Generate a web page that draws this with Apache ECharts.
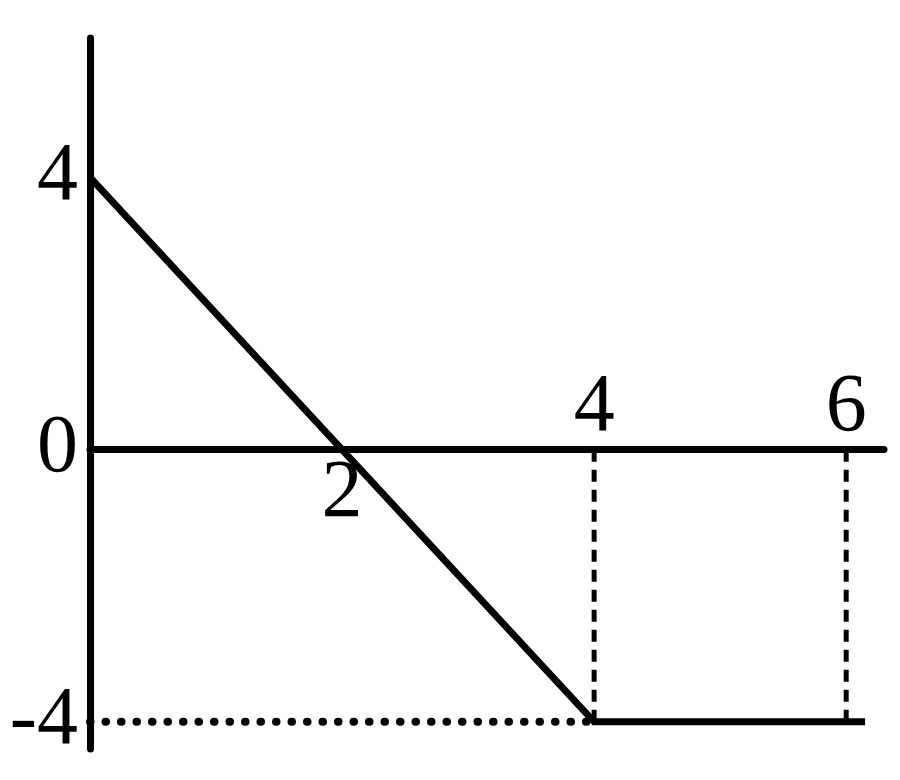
<!DOCTYPE html>
<html>
<head>
<meta charset="utf-8">
<script src="https://cdn.jsdelivr.net/npm/echarts@6/dist/echarts.min.js"></script>
<style>
html,body{margin:0;padding:0;background:#fff;}
#chart{width:900px;height:780px;}
</style>
</head>
<body>
<div id="chart"></div>
<script>
// Data
var graphPoints = [[0, 4], [2, 0], [4, -4], [6.15, -4]];
var guideHorizontal = [[0, -4], [4, -4]];
var guideAt4 = [[4, 0], [4, -4]];
var guideAt6 = [[6, 0], [6, -4]];
var xTicksBelow = [2];
var xTicksAbove = [4, 6];
var yTicks = [-4, 0, 4];

var FONT = '"Liberation Serif", "DejaVu Serif", serif';
var FS = 82;
var chart = echarts.init(document.getElementById('chart'), null, {renderer: 'canvas'});

function tickPoints(vals) {
  return vals.map(function (v) { return [v, 0]; });
}

chart.setOption({
  backgroundColor: '#fff',
  animation: false,
  grid: {left: 90, width: 794, top: 38, height: 711, containLabel: false, outerBoundsMode: 'none'},
  xAxis: {
    type: 'value', min: 0, max: 6.3,
    axisLine: {show: true, onZero: true, lineStyle: {color: '#000', width: 7}},
    axisTick: {show: false}, splitLine: {show: false},
    axisLabel: {show: false}
  },
  yAxis: {
    type: 'value', min: -4.4, max: 6.05,
    axisLine: {show: true, onZero: true, lineStyle: {color: '#000', width: 7}},
    axisTick: {show: false}, splitLine: {show: false},
    axisLabel: {
      show: true, customValues: yTicks, margin: 12,
      color: '#000', fontFamily: FONT, fontSize: FS, lineHeight: FS
    }
  },
  series: [{
    type: 'line', data: guideHorizontal, symbol: 'none', silent: true,
    lineStyle: {color: '#000', width: 8, type: [0.5, 15], cap: 'round'}
  }, {
    type: 'line', data: guideAt4, symbol: 'none', silent: true,
    lineStyle: {color: '#000', width: 5, type: [12, 8]}
  }, {
    type: 'line', data: guideAt6, symbol: 'none', silent: true,
    lineStyle: {color: '#000', width: 5, type: [12, 8]}
  }, {
    type: 'line', data: graphPoints, symbol: 'none', silent: true,
    lineStyle: {color: '#000', width: 7, join: 'miter'}
  }, {
    type: 'scatter', data: tickPoints(xTicksBelow), symbolSize: 0, silent: true,
    itemStyle: {opacity: 1, color: '#000'},
    label: {
      show: true, position: 'bottom', distance: 4, opacity: 1,
      formatter: function (p) { return String(p.value[0]); },
      color: '#000', fontFamily: FONT, fontSize: FS, lineHeight: FS
    }
  }, {
    type: 'scatter', data: tickPoints(xTicksAbove), symbolSize: 0, silent: true,
    itemStyle: {opacity: 1, color: '#000'},
    label: {
      show: true, position: 'top', distance: 0, opacity: 1,
      formatter: function (p) { return String(p.value[0]); },
      color: '#000', fontFamily: FONT, fontSize: FS, lineHeight: FS
    }
  }]
});
</script>
</body>
</html>
